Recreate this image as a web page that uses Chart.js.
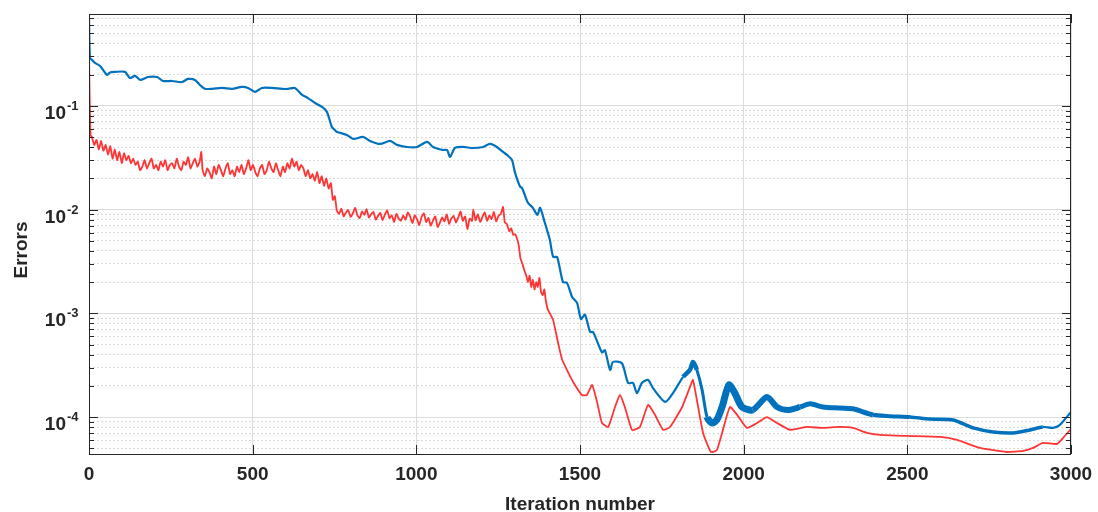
<!DOCTYPE html>
<html>
<head>
<meta charset="utf-8">
<script src="https://cdn.jsdelivr.net/npm/chart.js@4/dist/chart.umd.min.js"></script>
<style>
  html, body { margin: 0; padding: 0; background: #fff; }
  #chart { display: block; }
</style>
</head>
<body>
<canvas id="chart" width="1098" height="512"></canvas>
<script>
// iteration numbers and errors
const blueIter = [0, 3, 9, 18, 34, 55, 64, 79, 110, 125,
  141, 156, 180, 208, 226, 254, 284, 302, 324, 339,
  354, 376, 406, 437, 467, 486, 507, 528, 559, 590,
  608, 629, 651, 669, 690, 712, 727, 742, 751, 758,
  788, 807, 837, 858, 889, 920, 941, 971, 1002, 1033,
  1051, 1081, 1094, 1103, 1118, 1143, 1173, 1204, 1225, 1246,
  1265, 1277, 1292, 1301, 1317, 1323, 1340, 1356, 1370, 1378,
  1393, 1399, 1408, 1418, 1430, 1448, 1460, 1476, 1491, 1503,
  1515, 1531, 1540, 1567, 1576, 1592, 1601, 1628, 1647, 1662,
  1674, 1689, 1708, 1723, 1760, 1784, 1815, 1836, 1845, 1857,
  1873, 1888, 1903, 1918, 1934, 1955, 1973, 1995, 2028, 2071,
  2102, 2135, 2172, 2203, 2242, 2294, 2334, 2395, 2447, 2508,
  2569, 2640, 2701, 2762, 2823, 2875, 2914, 2945, 2966, 3000];
const blueErr = [0.70, 0.29, 0.278, 0.26, 0.243, 0.199, 0.21, 0.213, 0.213, 0.186,
  0.195, 0.178, 0.19, 0.19, 0.174, 0.174, 0.170, 0.182, 0.178, 0.159,
  0.1465, 0.146, 0.149, 0.146, 0.1525, 0.149, 0.1365, 0.149, 0.149, 0.146,
  0.146, 0.149, 0.128, 0.119, 0.107, 0.0978, 0.0875, 0.0627, 0.0587, 0.0561,
  0.0525, 0.048, 0.0502, 0.046, 0.043, 0.046, 0.0421, 0.0402, 0.0402, 0.045,
  0.0402, 0.0376, 0.0376, 0.0322, 0.0393, 0.0402, 0.0393, 0.0402, 0.043, 0.0402,
  0.036, 0.0337, 0.0302, 0.023, 0.0166, 0.0162, 0.0118, 0.0104, 0.0089, 0.0104,
  0.0074, 0.0064, 0.0051, 0.0035, 0.0035, 0.0020, 0.00197, 0.00144, 0.00126, 0.00088,
  0.00097, 0.00066, 0.00066, 0.00042, 0.00044, 0.000285, 0.00034, 0.00033, 0.000213, 0.000213,
  0.00017, 0.000213, 0.000228, 0.00019, 0.00014, 0.00017, 0.000244, 0.000285, 0.00034, 0.000285,
  0.000183, 0.0001, 0.0000876, 0.0000937, 0.000125, 0.000204, 0.00017, 0.000125, 0.000117, 0.000156,
  0.000125, 0.000117, 0.000125, 0.000134, 0.000125, 0.000122, 0.00012, 0.000105, 0.000102, 0.0001,
  0.0000956, 0.0000937, 0.0000785, 0.0000718, 0.0000702, 0.0000751, 0.0000802, 0.0000785, 0.0000839, 0.000112];

const redIter = [0, 2, 5, 9, 16, 23, 30, 37, 44, 51, 58, 65, 72, 79, 86, 93, 100,
  107, 114, 121, 128, 135, 142, 149, 156, 163, 170, 177, 184, 191, 198, 205, 212,
  219, 226, 233, 240, 247, 254, 261, 268, 275, 282, 289, 296, 303, 310, 317, 324,
  331, 338, 343, 347,
  354, 361, 368, 375, 382, 389, 396, 403, 410, 417, 424, 431, 438, 445, 452, 459,
  466, 473, 480, 487, 494, 501, 508, 515, 522, 529, 536, 543, 550, 557, 564, 571,
  578, 585, 592, 599, 606, 613, 620, 627, 634, 641, 648,
  655, 662, 669, 676, 683, 690, 697, 704, 711, 718, 725, 732, 739, 745, 751, 757,
  764, 771, 778, 785, 792, 799, 806, 813, 820, 827, 834, 841, 848, 855, 862, 869,
  876, 883, 890, 897, 904, 911, 918, 925, 932, 939, 946, 953, 960, 967, 974, 981,
  988, 995, 1002, 1009, 1016, 1023, 1030, 1037, 1044, 1051, 1058, 1065, 1072, 1079,
  1086, 1093, 1100, 1107, 1114, 1121, 1128, 1135, 1142, 1149, 1156, 1163, 1170, 1174,
  1181, 1188, 1195, 1202, 1209, 1216, 1223, 1230, 1237, 1244, 1251, 1258, 1265, 1270, 1277,
  1284, 1290, 1296, 1302, 1308, 1313, 1318, 1324, 1330, 1336, 1341, 1346, 1351, 1356,
  1361, 1366, 1371, 1376, 1381, 1386, 1391, 1396, 1402, 1408,
  1418, 1433, 1445, 1460, 1479, 1506, 1521, 1537, 1552, 1567, 1586, 1607,
  1622, 1637, 1659, 1683, 1708, 1729, 1754, 1775, 1812, 1836,
  1845, 1857, 1876, 1900, 1918, 1934, 1958, 1980, 2010, 2041,
  2071, 2102, 2142, 2193, 2242, 2294, 2334, 2377, 2417, 2499,
  2600, 2652, 2722, 2804, 2853, 2884, 2914, 2957, 2976, 3000];
const redErr = [0.32, 0.12, 0.052, 0.050, 0.042, 0.047, 0.038, 0.046, 0.037, 0.042, 0.034, 0.041, 0.031, 0.038, 0.030, 0.036, 0.028,
  0.035, 0.030, 0.033, 0.028, 0.031, 0.027, 0.029, 0.024, 0.026, 0.030, 0.025, 0.028, 0.031, 0.025, 0.027, 0.024,
  0.029, 0.026, 0.030, 0.024, 0.027, 0.028, 0.025, 0.031, 0.026, 0.024, 0.029, 0.027, 0.032, 0.025, 0.028, 0.031,
  0.026, 0.029, 0.036, 0.024,
  0.021, 0.025, 0.023, 0.020, 0.026, 0.022, 0.027, 0.024, 0.021, 0.025, 0.028, 0.022, 0.024, 0.021, 0.026, 0.023,
  0.027, 0.022, 0.025, 0.030, 0.024, 0.027, 0.023, 0.021, 0.025, 0.027, 0.022, 0.024, 0.029, 0.025, 0.023, 0.028,
  0.024, 0.021, 0.026, 0.023, 0.028, 0.025, 0.031, 0.026, 0.029, 0.024, 0.027,
  0.025, 0.021, 0.024, 0.020, 0.022, 0.019, 0.023, 0.018, 0.021, 0.017, 0.020, 0.016, 0.018, 0.0124, 0.0135, 0.0098,
  0.0091, 0.0102, 0.0086, 0.0094, 0.0099, 0.0085, 0.0092, 0.0104, 0.0088, 0.0083, 0.0096, 0.0089, 0.0101, 0.0084, 0.0090, 0.0095,
  0.0080, 0.0087, 0.0093, 0.0079, 0.0090, 0.0098, 0.0083, 0.0088, 0.0076, 0.0091, 0.0082, 0.0078, 0.0088, 0.0080, 0.0094, 0.0086,
  0.0074, 0.0088, 0.0081, 0.0071, 0.0085, 0.0092, 0.0076, 0.0083, 0.0070, 0.0079, 0.0086, 0.0068, 0.0075, 0.0084,
  0.0077, 0.0090, 0.0073, 0.0082, 0.0087, 0.0075, 0.0084, 0.0096, 0.0078, 0.0086, 0.0065, 0.0082, 0.0078, 0.0100,
  0.0079, 0.0090, 0.0076, 0.0085, 0.0094, 0.0078, 0.0088, 0.0081, 0.0095, 0.0077, 0.0087, 0.0091, 0.0106, 0.0076, 0.0072,
  0.0062, 0.0066, 0.0057, 0.0058, 0.0052, 0.0045, 0.0034, 0.0030, 0.0026, 0.0023, 0.0020, 0.0023, 0.0018, 0.0021,
  0.0017, 0.0020, 0.0018, 0.0022, 0.0016, 0.0015, 0.0017, 0.0013, 0.00108, 0.0010,
  0.00086, 0.00052, 0.00036, 0.000285, 0.000218, 0.000163, 0.000163, 0.000204, 0.00014, 0.0000876, 0.0000802, 0.000125,
  0.000163, 0.000125, 0.0000751, 0.0000802, 0.000131, 0.000105, 0.0000751, 0.0000802, 0.000125, 0.000195,
  0.000228, 0.000146, 0.0000702, 0.000046, 0.000048, 0.0000702, 0.000125, 0.000105, 0.0000785, 0.0000876,
  0.0001, 0.0000876, 0.0000751, 0.0000802, 0.0000785, 0.0000802, 0.0000785, 0.0000702, 0.0000672, 0.0000657,
  0.0000643, 0.0000601, 0.0000504, 0.000046, 0.0000471, 0.0000504, 0.0000562, 0.000055, 0.0000629, 0.0000768];

const xTicks = [0, 500, 1000, 1500, 2000, 2500, 3000];
const yDecades = [-4, -3, -2, -1];
const yMin = 4.4e-5;
const yMax = 0.77;

const INK = '#262626';
const FONT = '"Liberation Sans", Arial, Helvetica, sans-serif';

// blue line gets a thick band where it oscillates fast
const bandFrom = [1790, 1850, 1880, 2000, 2140, 2340, 2450, 2900];
const bandWidth = [4.5, 3, 7, 6, 5, 4, 3.5, 2.2];
function blueWidth(x) {
  let w = 2.2;
  bandFrom.forEach((f, i) => { if (x >= f) w = bandWidth[i]; });
  return w;
}

function isMajor(v) {
  const l = Math.log10(v);
  return Math.abs(l - Math.round(l)) < 1e-6;
}

const axesPlugin = {
  id: 'matlabAxes',
  afterDatasetsDraw(chart) {
    const { ctx, chartArea: a, scales } = chart;
    const x = scales.x, y = scales.y;
    ctx.save();
    ctx.strokeStyle = INK;
    ctx.lineWidth = 1;
    ctx.beginPath();
    // inward ticks, x
    xTicks.forEach((t) => {
      const px = Math.round(x.getPixelForValue(t)) + 0.5;
      ctx.moveTo(px, a.bottom); ctx.lineTo(px, a.bottom - 9);
      ctx.moveTo(px, a.top); ctx.lineTo(px, a.top + 9);
    });
    // inward ticks, y
    y.ticks.forEach((t) => {
      const len = isMajor(t.value) ? 9 : 5;
      const py = Math.round(y.getPixelForValue(t.value)) + 0.5;
      ctx.moveTo(a.left, py); ctx.lineTo(a.left + len, py);
      ctx.moveTo(a.right, py); ctx.lineTo(a.right - len, py);
    });
    ctx.stroke();
    ctx.strokeRect(Math.round(a.left) + 0.5, Math.round(a.top) + 0.5,
      Math.round(a.right - a.left) - 1, Math.round(a.bottom - a.top));

    // y tick labels as 10^n
    ctx.fillStyle = INK;
    ctx.textBaseline = 'alphabetic';
    yDecades.forEach((e) => {
      const py = y.getPixelForValue(Math.pow(10, e));
      ctx.font = 'bold 19px ' + FONT;
      ctx.textAlign = 'right';
      ctx.fillText('10', 66, py + 13);
      ctx.font = 'bold 13px ' + FONT;
      ctx.textAlign = 'left';
      ctx.fillText('-' + Math.abs(e), 67, py + 4);
    });

    // axis titles
    ctx.font = 'bold 19px ' + FONT;
    ctx.textAlign = 'center';
    ctx.fillText('Iteration number', (a.left + a.right) / 2, 510);
    ctx.translate(27, 250);
    ctx.rotate(-Math.PI / 2);
    ctx.fillText('Errors', 0, 0);
    ctx.restore();
  }
};

new Chart(document.getElementById('chart'), {
  type: 'line',
  data: {
    datasets: [
      {
        label: 'blue',
        data: blueIter.map((v, i) => ({ x: v, y: blueErr[i] })),
        borderColor: '#0072BD',
        borderWidth: 2.2,
        pointRadius: 0,
        tension: 0.25,
        order: 1,
        segment: { borderWidth: (c) => blueWidth(c.p0.parsed.x) }
      },
      {
        label: 'red',
        data: redIter.map((v, i) => ({ x: v, y: redErr[i] })),
        borderColor: '#FF3535',
        borderWidth: 1.8,
        pointRadius: 0,
        tension: 0.15,
        order: 0
      }
    ]
  },
  options: {
    responsive: false,
    animation: false,
    devicePixelRatio: 1,
    layout: { padding: { top: 14, right: 27, left: 0, bottom: 0 } },
    plugins: { legend: { display: false }, tooltip: { enabled: false } },
    scales: {
      x: {
        type: 'linear',
        min: 0,
        max: 3000,
        afterBuildTicks: (s) => { s.ticks = xTicks.map((v) => ({ value: v })); },
        afterFit: (s) => { s.height = 58; s.paddingLeft = 0; s.paddingRight = 0; },
        grid: { color: '#dcdcdc', lineWidth: 1, drawTicks: false },
        border: { display: false },
        ticks: {
          color: INK,
          padding: 9,
          maxRotation: 0,
          autoSkip: false,
          font: { family: FONT, size: 19, weight: 'bold' },
          callback: (v) => String(v)
        }
      },
      y: {
        type: 'logarithmic',
        min: yMin,
        max: yMax,
        afterBuildTicks: (s) => {
          const t = [];
          for (let e = -5; e <= 0; e++) {
            for (let m = 1; m <= 9; m++) {
              const v = m * Math.pow(10, e);
              if (v >= yMin && v <= yMax) t.push({ value: v, major: m === 1 });
            }
          }
          s.ticks = t;
        },
        afterFit: (s) => { s.width = 89; s.paddingTop = 0; s.paddingBottom = 0; },
        grid: {
          drawTicks: false,
          lineWidth: 1,
          color: (c) => (c.tick && isMajor(c.tick.value) ? '#dcdcdc' : '#dadada')
        },
        border: {
          display: false,
          dash: (c) => (c.tick && isMajor(c.tick.value) ? [] : [2, 2])
        },
        ticks: { display: false, autoSkip: false }
      }
    }
  },
  plugins: [axesPlugin]
});
</script>
</body>
</html>
